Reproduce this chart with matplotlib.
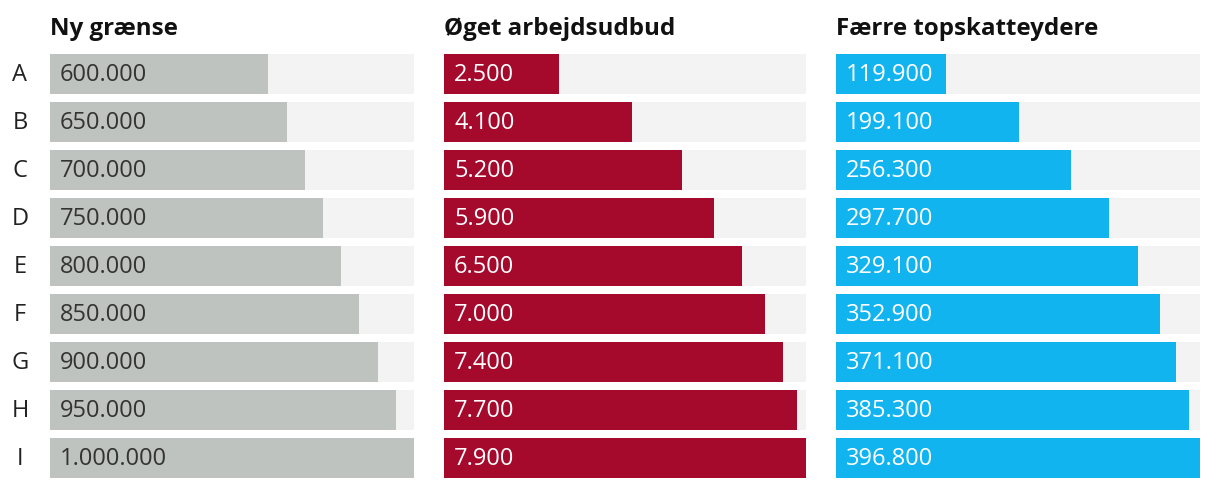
import matplotlib
matplotlib.use("Agg")
import matplotlib.pyplot as plt

plt.rcParams["font.family"] = ["Open Sans", "DejaVu Sans"]

rows = ["A", "B", "C", "D", "E", "F", "G", "H", "I"]
graense = [600000, 650000, 700000, 750000, 800000, 850000, 900000, 950000, 1000000]
arbejdsudbud = [2500, 4100, 5200, 5900, 6500, 7000, 7400, 7700, 7900]
topskat = [119900, 199100, 256300, 297700, 329100, 352900, 371100, 385300, 396800]

PANELS = [  # (title, values, bar color, text color, left px, right px)
    ("Ny grænse", graense, "#bfc3bf", "#333333", 50, 414),
    ("Øget arbejdsudbud", arbejdsudbud, "#a50a2d", "white", 444, 806),
    ("Færre topskatteydere", topskat, "#12b4f0", "white", 836, 1200),
]
W, H = 1220, 488
TOP, BOT = 54, 478
BAR = 40 / 48


def fmt(v):
    return f"{v:,}".replace(",", ".")


fig = plt.figure(figsize=(W / 100, H / 100), dpi=100)
for k, (title, vals, col, tcol, x0, x1) in enumerate(PANELS):
    ax = fig.add_axes([x0 / W, 1 - BOT / H, (x1 - x0) / W, (BOT - TOP) / H])
    vmax = max(vals)
    ys = range(len(vals))
    ax.barh(ys, [vmax] * len(vals), height=BAR, color="#f3f3f3", lw=0)
    ax.barh(ys, vals, height=BAR, color=col, lw=0)
    for i, v in enumerate(vals):
        ax.text(vmax * 10 / (x1 - x0), i + 0.03, fmt(v), va="center", ha="left",
                fontsize=17, color=tcol)
    ax.set_xlim(0, vmax)
    ax.set_ylim(len(vals) - 1 + BAR / 2, -BAR / 2)
    ax.axis("off")
    fig.text(x0 / W, 1 - 29 / H, title, fontsize=17.4, fontweight="bold",
             color="#111111", va="center", ha="left")
    if k == 0:
        for i, r in enumerate(rows):
            ax.text(-30 / (x1 - x0) * vmax, i + 0.03, r, va="center", ha="center",
                    fontsize=17, color="#222222")

fig.savefig("out.png", dpi=100)
